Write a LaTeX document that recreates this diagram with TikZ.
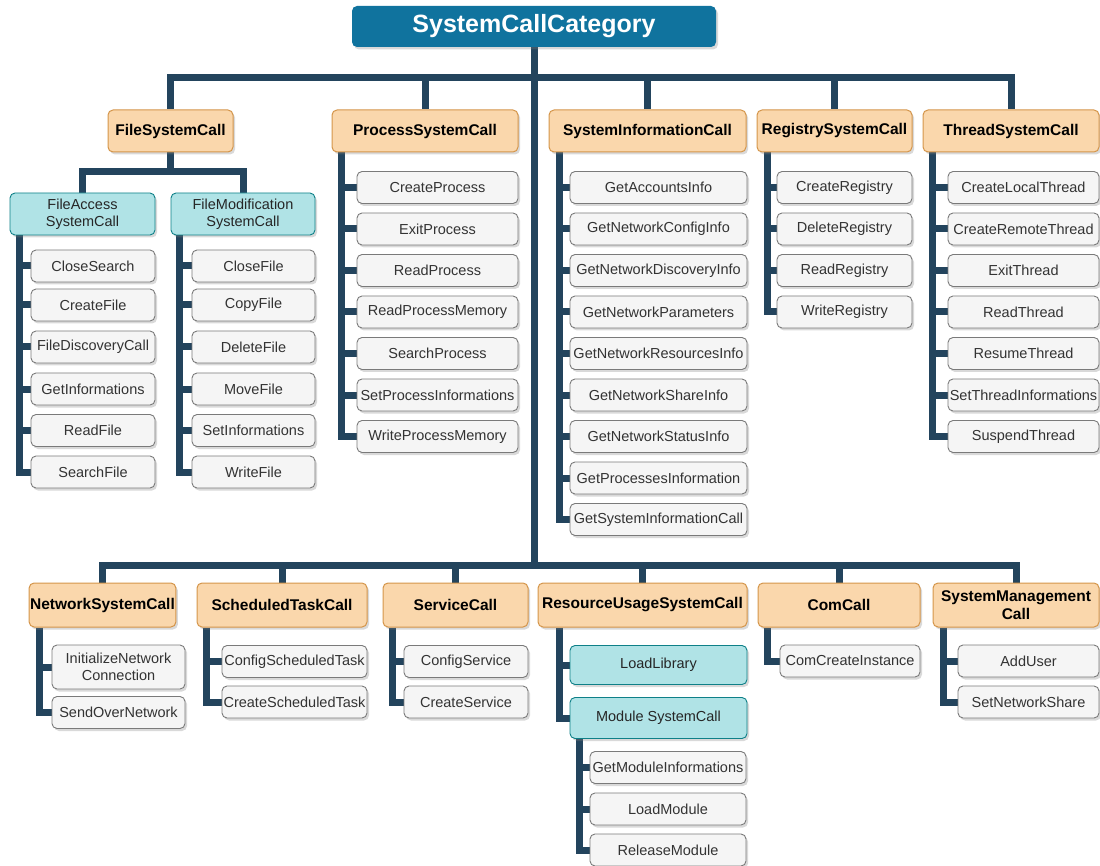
\documentclass[tikz,border=0pt]{standalone}
\usepackage{fontspec}
\setmainfont{Liberation Sans}
\usetikzlibrary{shadows,backgrounds}
\definecolor{conn}{HTML}{23445D}
\definecolor{rootfill}{HTML}{10739E}
\definecolor{catfill}{HTML}{FAD7AC}
\definecolor{catline}{HTML}{D4954A}
\definecolor{tealfill}{HTML}{B0E3E6}
\definecolor{tealline}{HTML}{0E8088}
\definecolor{leaffill}{HTML}{F5F5F5}
\definecolor{leafline}{HTML}{7A7A7A}
\definecolor{leaftext}{HTML}{333333}
\newcommand\leaffont{\fontsize{14.5}{17}\selectfont}
\newcommand\catfont{\fontsize{15.5}{18}\selectfont\bfseries}
\newcommand\rootfont{\fontsize{25}{30}\selectfont\bfseries}
\newcommand\leafnode[5]{\node[leaf,minimum width=#1] (#2) at (#3,#4) {#5};}
\begin{document}
\begin{tikzpicture}[x=1pt,y=-1pt,
  boxbase/.style={rounded corners=5pt, inner sep=1pt, align=center,
    drop shadow={shadow xshift=2pt,shadow yshift=-2.5pt,opacity=0.3}},
  leaf/.style={boxbase, draw=leafline, fill=leaffill, text=leaftext, line width=0.9pt,
    minimum height=32pt, font=\leaffont},
  tealbox/.style={boxbase, draw=tealline, fill=tealfill, text=black!85, line width=0.9pt,
    font=\leaffont},
  cat/.style={boxbase, draw=catline, fill=catfill, text=black, line width=1pt,
    font=\catfont},
  rootbox/.style={boxbase, fill=rootfill, text=white, font=\rootfont},
  conn/.style={draw=conn, line width=7pt, line join=miter}
]
\useasboundingbox (0,0) rectangle (1100,866);

% root
\node[rootbox, minimum width=364pt, minimum height=41pt] (root) at (534,26.5) {SystemCallCategory};

% top categories
\node[cat, minimum width=125pt, minimum height=42pt] (fsc) at (170.5,131) {FileSystemCall};
\node[cat, minimum width=186pt, minimum height=42pt] (psc) at (425,131) {ProcessSystemCall};
\node[cat, minimum width=197pt, minimum height=42pt] (sic) at (647.5,131) {SystemInformationCall};
\node[cat, minimum width=155pt, minimum height=42pt] (rsc) at (834.5,131) {RegistrySystemCall};
\node[cat, minimum width=176pt, minimum height=42pt] (tsc) at (1011,131) {ThreadSystemCall};

% file sub categories
\node[tealbox, minimum width=145pt, minimum height=42pt] (fa) at (82.5,214) {FileAccess\\SystemCall};
\node[tealbox, minimum width=144pt, minimum height=42pt] (fm) at (243,214) {FileModification\\SystemCall};

\leafnode{124pt}{fa1}{93}{266}{CloseSearch}
\leafnode{124pt}{fa2}{93}{305}{CreateFile}
\leafnode{124pt}{fa3}{93}{347}{FileDiscoveryCall}
\leafnode{124pt}{fa4}{93}{389}{GetInformations}
\leafnode{124pt}{fa5}{93}{430.5}{ReadFile}
\leafnode{124pt}{fa6}{93}{472}{SearchFile}

\leafnode{123pt}{fm1}{253.5}{266}{CloseFile}
\leafnode{123pt}{fm2}{253.5}{305}{CopyFile}
\leafnode{123pt}{fm3}{253.5}{347}{DeleteFile}
\leafnode{123pt}{fm4}{253.5}{389}{MoveFile}
\leafnode{123pt}{fm5}{253.5}{430.5}{SetInformations}
\leafnode{123pt}{fm6}{253.5}{472}{WriteFile}

% process
\leafnode{161pt}{p1}{437.5}{187.5}{CreateProcess}
\leafnode{161pt}{p2}{437.5}{229}{ExitProcess}
\leafnode{161pt}{p3}{437.5}{270.5}{ReadProcess}
\leafnode{161pt}{p4}{437.5}{312}{ReadProcessMemory}
\leafnode{161pt}{p5}{437.5}{353.5}{SearchProcess}
\leafnode{161pt}{p6}{437.5}{395}{SetProcessInformations}
\leafnode{161pt}{p7}{437.5}{436.5}{WriteProcessMemory}

% system information
\leafnode{177pt}{s1}{658.5}{187.5}{GetAccountsInfo}
\leafnode{177pt}{s2}{658.5}{229}{GetNetworkConfigInfo}
\leafnode{177pt}{s3}{658.5}{270.5}{GetNetworkDiscoveryInfo}
\leafnode{177pt}{s4}{658.5}{312}{GetNetworkParameters}
\leafnode{177pt}{s5}{658.5}{353.5}{GetNetworkResourcesInfo}
\leafnode{177pt}{s6}{658.5}{395}{GetNetworkShareInfo}
\leafnode{177pt}{s7}{658.5}{436.5}{GetNetworkStatusInfo}
\leafnode{177pt}{s8}{658.5}{478}{GetProcessesInformation}
\leafnode{177pt}{s9}{658.5}{519.5}{GetSystemInformationCall}

% registry
\leafnode{135pt}{r1}{844.5}{187.5}{CreateRegistry}
\leafnode{135pt}{r2}{844.5}{229}{DeleteRegistry}
\leafnode{135pt}{r3}{844.5}{270.5}{ReadRegistry}
\leafnode{135pt}{r4}{844.5}{312}{WriteRegistry}

% thread
\leafnode{151pt}{t1}{1023.5}{187.5}{CreateLocalThread}
\leafnode{151pt}{t2}{1023.5}{229}{CreateRemoteThread}
\leafnode{151pt}{t3}{1023.5}{270.5}{ExitThread}
\leafnode{151pt}{t4}{1023.5}{312}{ReadThread}
\leafnode{151pt}{t5}{1023.5}{353.5}{ResumeThread}
\leafnode{151pt}{t6}{1023.5}{395}{SetThreadInformations}
\leafnode{151pt}{t7}{1023.5}{436.5}{SuspendThread}

% bottom categories
\node[cat, minimum width=145pt, minimum height=44pt] (nsc) at (102.5,605) {NetworkSystemCall};
\node[cat, minimum width=170pt, minimum height=44pt] (stc) at (282,605) {ScheduledTaskCall};
\node[cat, minimum width=145pt, minimum height=44pt] (svc) at (455.5,605) {ServiceCall};
\node[cat, minimum width=209pt, minimum height=44pt] (rus) at (642.5,605) {ResourceUsageSystemCall};
\node[cat, minimum width=162pt, minimum height=44pt] (com) at (839,605) {ComCall};
\node[cat, minimum width=166pt, minimum height=44pt] (smc) at (1016,605) {SystemManagement\\Call};

% network
\node[leaf, minimum width=133pt, minimum height=44pt] (n1) at (118.5,667) {InitializeNetwork\\Connection};
\leafnode{133pt}{n2}{118.5}{712.5}{SendOverNetwork}
% scheduled
\leafnode{145pt}{st1}{294.5}{661.5}{ConfigScheduledTask}
\leafnode{145pt}{st2}{294.5}{702}{CreateScheduledTask}
% service
\leafnode{124pt}{sv1}{466}{661.5}{ConfigService}
\leafnode{124pt}{sv2}{466}{702}{CreateService}
% resource usage
\node[tealbox, minimum width=177pt, minimum height=39pt] (ll) at (658.5,665) {LoadLibrary};
\node[tealbox, minimum width=177pt, minimum height=41pt] (mod) at (658.5,718) {Module SystemCall};
\leafnode{156pt}{m1}{668}{767.5}{GetModuleInformations}
\leafnode{156pt}{m2}{668}{809}{LoadModule}
\leafnode{156pt}{m3}{668}{850}{ReleaseModule}
% com
\leafnode{140pt}{c1}{850}{661}{ComCreateInstance}
% system management
\leafnode{141pt}{sm1}{1028.5}{661}{AddUser}
\leafnode{141pt}{sm2}{1028.5}{702}{SetNetworkShare}

\coordinate (tbus) at (0,78);
\coordinate (bbus) at (0,565);
\coordinate (fbus) at (0,172);

\begin{scope}[on background layer]
  % root to top categories
  \foreach \c in {fsc,psc,sic,rsc,tsc}
    \draw[conn] (root.south) -- (root.south |- tbus) -| (\c.north);
  % trunk to bottom categories
  \foreach \c in {nsc,stc,svc,rus,com,smc}
    \draw[conn] (root.south) -- (root.south |- bbus) -| (\c.north);
  % file system call to sub categories
  \foreach \c in {fa,fm}
    \draw[conn] (fsc.south) -- (fsc.south |- fbus) -| (\c.north);
  \foreach \i in {1,...,6} {
    \draw[conn] ([xshift=10pt]fa.south west) |- (fa\i.west);
    \draw[conn] ([xshift=9pt]fm.south west) |- (fm\i.west);
  }
  \foreach \i in {1,...,7} {
    \draw[conn] ([xshift=10pt]psc.south west) |- (p\i.west);
    \draw[conn] ([xshift=10pt]tsc.south west) |- (t\i.west);
  }
  \foreach \i in {1,...,9}
    \draw[conn] ([xshift=11pt]sic.south west) |- (s\i.west);
  \foreach \i in {1,...,4}
    \draw[conn] ([xshift=11pt]rsc.south west) |- (r\i.west);
  \foreach \i in {1,2} {
    \draw[conn] ([xshift=11pt]nsc.south west) |- (n\i.west);
    \draw[conn] ([xshift=10pt]stc.south west) |- (st\i.west);
    \draw[conn] ([xshift=10pt]svc.south west) |- (sv\i.west);
    \draw[conn] ([xshift=11pt]smc.south west) |- (sm\i.west);
  }
  \draw[conn] ([xshift=22pt]rus.south west) |- (ll.west);
  \draw[conn] ([xshift=22pt]rus.south west) |- (mod.west);
  \foreach \i in {1,2,3}
    \draw[conn] ([xshift=10pt]mod.south west) |- (m\i.west);
  \draw[conn] ([xshift=10pt]com.south west) |- (c1.west);
\end{scope}
\end{tikzpicture}
\end{document}
